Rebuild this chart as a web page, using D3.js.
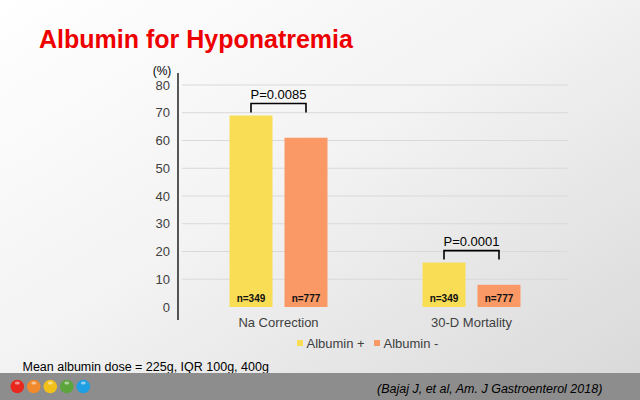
<!DOCTYPE html>
<html>
<head>
<meta charset="utf-8">
<script src="https://cdn.jsdelivr.net/npm/d3@7"></script>
<style>
  body { margin: 0; padding: 0; overflow: hidden; }
  svg { display: block; font-family: "Liberation Sans", Arial, sans-serif; }
</style>
</head>
<body>
<div class="chartWrap"></div>
<script>
// Data
const categories = ["Na Correction", "30-D Mortality"];
const series = ["Albumin +", "Albumin -"];
const albuminPlus = [69, 16];
const albuminMinus = [61, 8];
const nLabels = ["n=349", "n=777"];
const pValues = ["P=0.0085", "P=0.0001"];
const yTicks = [0, 10, 20, 30, 40, 50, 60, 70, 80];
const dotColors = ["#e8281e", "#f08a2c", "#f2c01a", "#5ba53c", "#1e9fe3"];

const width = 640, height = 400;
const colors = ["#f9dd55", "#fa9965"];

let svg = d3.select(".chartWrap").append("svg").attr("width", width).attr("height", height);

// Background
let defs = svg.append("defs");
let grad = defs.append("linearGradient").attr("id", "bg")
  .attr("x1", "0%").attr("y1", "0%").attr("x2", "100%").attr("y2", "100%");
grad.append("stop").attr("offset", "0%").attr("stop-color", "#ffffff");
grad.append("stop").attr("offset", "45%").attr("stop-color", "#f3f3f3");
grad.append("stop").attr("offset", "100%").attr("stop-color", "#d8d8d8");
svg.append("rect").attr("width", width).attr("height", height).attr("fill", "url(#bg)");

// Title
svg.append("text").text("Albumin for Hyponatremia")
  .attr("x", 39).attr("y", 48)
  .attr("font-size", 25).attr("font-weight", "bold")
  .attr("fill", "#ee0000");

// Scales
let yScale = d3.scaleLinear().domain([0, 80]).range([307, 85]);
let x0 = d3.scaleBand().domain(categories).range([182, 568]).paddingInner(0).paddingOuter(0);
let x1 = d3.scaleBand().domain(series).range([0, x0.bandwidth()]).paddingInner(0.218).paddingOuter(0.864);

// Gridlines
svg.append("g").selectAll("line").data(yTicks.slice(1)).enter().append("line")
  .attr("x1", 182).attr("x2", 568)
  .attr("y1", d => yScale(d)).attr("y2", d => yScale(d))
  .attr("stroke", "#d9d9d9").attr("stroke-width", 1);

// Y axis
let yAxis = d3.axisLeft(yScale).tickValues(yTicks).tickSize(0).tickPadding(8);
let yg = svg.append("g").attr("transform", "translate(178,0)").call(yAxis);
yg.select(".domain").remove();
yg.selectAll("text").attr("font-size", 13).attr("fill", "#404040")
  .attr("font-family", "Liberation Sans, Arial, sans-serif");
svg.append("line").attr("x1", 178).attr("x2", 178).attr("y1", 73).attr("y2", 320)
  .attr("stroke", "#000").attr("stroke-width", 1.3);
svg.append("text").text("(%)").attr("x", 162).attr("y", 75)
  .attr("text-anchor", "middle").attr("font-size", 12).attr("fill", "#000");

// Bars
let rows = categories.map((c, i) => ({cat: c, vals: [albuminPlus[i], albuminMinus[i]]}));
let groups = svg.append("g").selectAll("g").data(rows).enter().append("g")
  .attr("transform", d => "translate(" + x0(d.cat) + ",0)");
groups.selectAll("rect").data(d => d.vals.map((v, j) => ({s: series[j], v: v, j: j}))).enter()
  .append("rect")
  .attr("x", d => x1(d.s)).attr("width", x1.bandwidth())
  .attr("y", d => yScale(d.v)).attr("height", d => yScale(0) - yScale(d.v))
  .attr("fill", d => colors[d.j]);
groups.selectAll("text.n").data(d => d.vals.map((v, j) => ({s: series[j], j: j}))).enter()
  .append("text").attr("class", "n")
  .text(d => nLabels[d.j])
  .attr("x", d => x1(d.s) + x1.bandwidth() / 2).attr("y", 301.5)
  .attr("text-anchor", "middle").attr("font-size", 10).attr("font-weight", "bold").attr("fill", "#111");

// P-value brackets
groups.each(function(d, i) {
  let g = d3.select(this);
  let top = yScale(d3.max(d.vals));
  let xa = x1(series[0]) + x1.bandwidth() / 2, xb = x1(series[1]) + x1.bandwidth() / 2;
  g.append("path")
    .attr("d", "M" + xa + "," + (top - 3) + "V" + (top - 12) + "H" + xb + "V" + (top - 3))
    .attr("fill", "none").attr("stroke", "#000").attr("stroke-width", 1.6);
  g.append("text").text(pValues[i])
    .attr("x", (xa + xb) / 2).attr("y", top - 17)
    .attr("text-anchor", "middle").attr("font-size", 13).attr("fill", "#000");
});

// Category labels
svg.append("g").selectAll("text").data(categories).enter().append("text")
  .text(d => d)
  .attr("x", d => x0(d) + x0.bandwidth() / 2).attr("y", 327)
  .attr("text-anchor", "middle").attr("font-size", 13).attr("fill", "#404040");

// Legend
let legendX = [297, 374];
series.forEach((s, i) => {
  svg.append("rect").attr("x", legendX[i]).attr("y", 340).attr("width", 6).attr("height", 6)
    .attr("fill", colors[i]);
  svg.append("text").text(s).attr("x", legendX[i] + 9.5).attr("y", 348)
    .attr("font-size", 13).attr("fill", "#404040");
});

// Note
svg.append("text").text("Mean albumin dose = 225g, IQR 100g, 400g")
  .attr("x", 22.5).attr("y", 370.5).attr("font-size", 12.5).attr("fill", "#000");

// Footer
svg.append("rect").attr("x", 0).attr("y", 373).attr("width", width).attr("height", 27).attr("fill", "#8d8d8d");
svg.append("g").selectAll("circle").data(dotColors).enter().append("circle")
  .attr("cx", (d, i) => 17.3 + i * 16.5).attr("cy", 386.5).attr("r", 6.8)
  .attr("fill", d => d);
svg.append("g").selectAll("ellipse").data(dotColors).enter().append("ellipse")
  .attr("cx", (d, i) => 17.3 + i * 16.5).attr("cy", 383).attr("rx", 2.5).attr("ry", 1.5)
  .attr("fill", "#fff").attr("opacity", 0.5);
svg.append("text").text("(Bajaj J, et al, Am. J Gastroenterol 2018)")
  .attr("x", 377).attr("y", 393).attr("font-size", 12.5).attr("font-style", "italic").attr("fill", "#000");
</script>
</body>
</html>
